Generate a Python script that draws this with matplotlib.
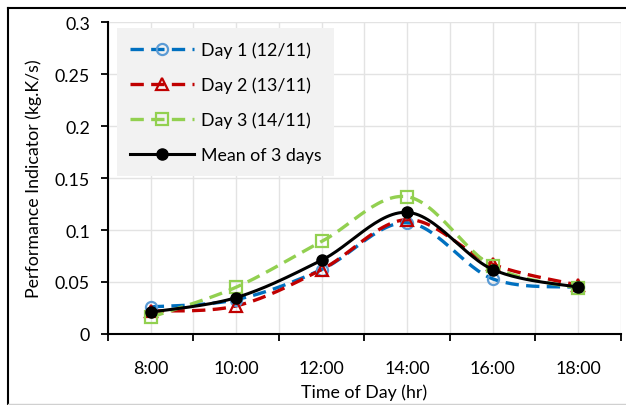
import numpy as np
import matplotlib
matplotlib.use("Agg")
import matplotlib.pyplot as plt
from matplotlib.lines import Line2D

plt.rcParams['font.family'] = ['Lato', 'DejaVu Sans']

# Performance indicator per hour for each measurement day
hours = ['8:00', '10:00', '12:00', '14:00', '16:00', '18:00']
day1 = [0.026, 0.033, 0.062, 0.107, 0.053, 0.045]
day2 = [0.022, 0.027, 0.062, 0.110, 0.067, 0.047]
day3 = [0.016, 0.045, 0.089, 0.132, 0.065, 0.044]
mean3 = [0.021, 0.035, 0.071, 0.117, 0.062, 0.045]


def smooth(xs, ys, n=30):
    # Bezier smoothing through the points (spreadsheet style smoothed line)
    xs = np.asarray(xs, float)
    ys = np.asarray(ys, float)
    px, py = [], []
    for i in range(len(xs) - 1):
        x0, y0 = xs[max(i - 1, 0)], ys[max(i - 1, 0)]
        x1, y1 = xs[i], ys[i]
        x2, y2 = xs[i + 1], ys[i + 1]
        x3, y3 = xs[min(i + 2, len(xs) - 1)], ys[min(i + 2, len(xs) - 1)]
        c1x, c1y = x1 + (x2 - x0) / 6, y1 + (y2 - y0) / 6
        c2x, c2y = x2 - (x3 - x1) / 6, y2 - (y3 - y1) / 6
        t = np.linspace(0, 1, n)
        bx = (1-t)**3*x1 + 3*(1-t)**2*t*c1x + 3*(1-t)*t**2*c2x + t**3*x2
        by = (1-t)**3*y1 + 3*(1-t)**2*t*c1y + 3*(1-t)*t**2*c2y + t**3*y2
        px.extend(bx)
        py.extend(by)
    return px, py


fig = plt.figure(figsize=(6.26, 4.06), dpi=100)
ax = fig.add_axes([0.1725, 0.175, 0.8195, 0.768])

fs = 12.8
dash = (4, 2.2)
x = np.arange(len(hours))
series = [
    (day1, 'Day 1 (12/11)', '#0070c0', '#5b9bd5', 'o'),
    (day2, 'Day 2 (13/11)', '#c00000', '#c00000', '^'),
    (day3, 'Day 3 (14/11)', '#92d050', '#92d050', 's'),
]
handles = []
for vals, lab, lc, mc, mk in series:
    sx, sy = smooth(x, vals)
    ax.plot(sx, sy, color=lc, lw=2.4, dashes=dash, zorder=3)
    ax.plot(x, vals, ls='none', marker=mk, ms=8, mfc='none', mec=mc, mew=1.6, zorder=4)
    handles.append(Line2D([], [], color=lc, lw=2.4, dashes=dash, marker=mk,
                          ms=8, mfc='none', mec=mc, mew=1.6, label=lab))

sx, sy = smooth(x, mean3)
ax.plot(sx, sy, color='black', lw=2.2, zorder=5)
ax.plot(x, mean3, ls='none', marker='o', ms=8, color='black', zorder=6)
handles.append(Line2D([], [], color='black', lw=2.2, marker='o', ms=8, label='Mean of 3 days'))

ax.set_xlim(-0.5, 5.5)
ax.set_ylim(0, 0.3)
ax.set_yticks(np.arange(0, 0.301, 0.05))
ax.set_yticklabels(['0', '0.05', '0.1', '0.15', '0.2', '0.25', '0.3'])
ax.set_xticks(x)
ax.set_xticklabels(hours)
ax.set_xticks(np.arange(-0.5, 5.6, 1), minor=True)
ax.tick_params(axis='x', which='major', length=0, pad=19, labelsize=fs)
ax.tick_params(axis='x', which='minor', length=5, width=1.3, direction='out')
ax.tick_params(axis='y', length=5, width=1.3, direction='out', pad=8, labelsize=fs)

for gx in np.arange(-0.5, 5.6, 0.5):
    ax.axvline(gx, color='#e3e3e3', lw=1, zorder=0)
ax.yaxis.grid(True, color='#e3e3e3', lw=1, zorder=0)
ax.set_axisbelow(True)

for s in ['top', 'right']:
    ax.spines[s].set_visible(False)
for s in ['left', 'bottom']:
    ax.spines[s].set_linewidth(1.5)

ax.set_xlabel('Time of Day (hr)', fontsize=fs, labelpad=5)
ax.set_ylabel('Performance Indicator (kg.K/s)', fontsize=fs, labelpad=9)

leg = ax.legend(handles=handles, loc='upper left', bbox_to_anchor=(0.0175, 0.981),
                frameon=True, fancybox=False, framealpha=1, facecolor='#f2f2f2',
                edgecolor='none', fontsize=fs, handlelength=3.6, labelspacing=1.05,
                borderpad=0.75, handletextpad=0.35, borderaxespad=0)
leg.set_zorder(10)

# outer chart border
fig.add_artist(Line2D([7.5/626, 7.5/626], [0, 1 - 8.5/406], color='black', lw=1.5))
fig.add_artist(Line2D([7.5/626, 1], [1 - 8.5/406, 1 - 8.5/406], color='black', lw=1.5))
fig.add_artist(Line2D([7.5/626, 1], [1/406, 1/406], color='#d0d0d0', lw=1))

fig.savefig('out.png', dpi=100)
